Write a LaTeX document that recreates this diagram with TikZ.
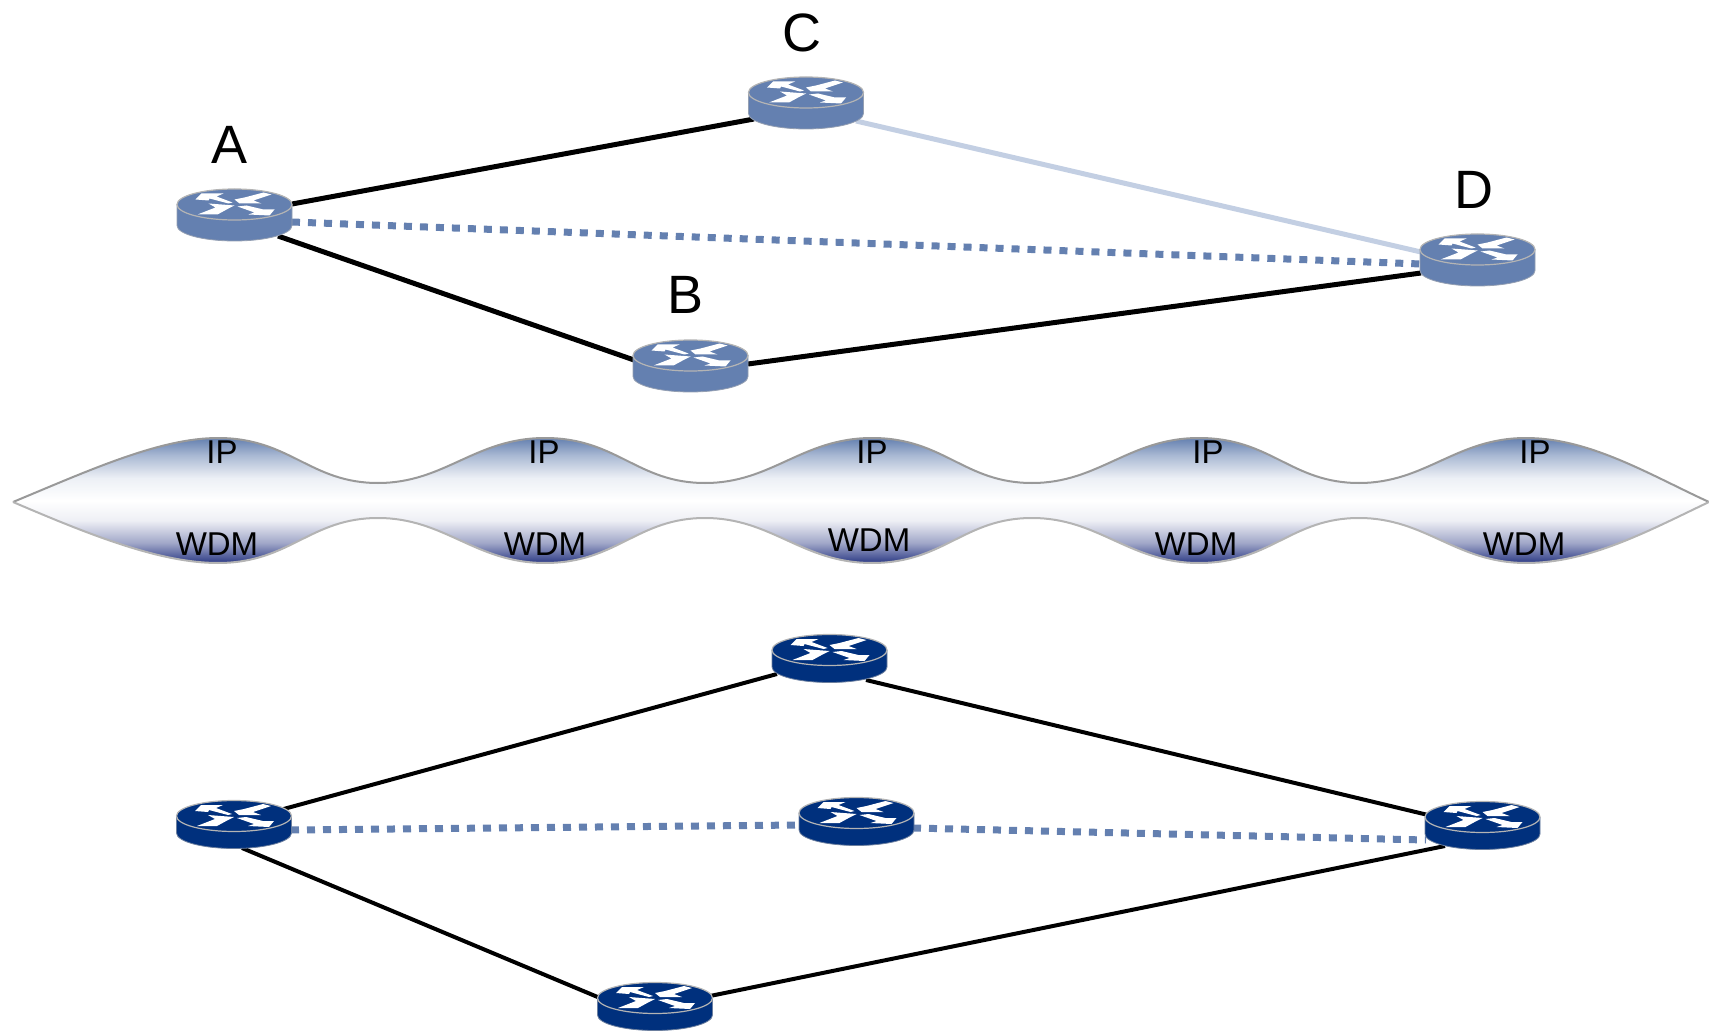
\documentclass[tikz,border=0pt]{standalone}
\usepackage{fontspec}
\setmainfont{Liberation Sans}
\definecolor{steel}{HTML}{6480B0}
\definecolor{navy}{HTML}{00307D}
\definecolor{paleline}{HTML}{C3CFE3}
\definecolor{deep}{HTML}{2C3A85}
\definecolor{edge}{HTML}{B4B4B4}
\pgfdeclareverticalshading{ribbonfill}{100bp}{
  color(0bp)=(deep); color(25bp)=(deep); color(33bp)=(deep!45!white); color(42bp)=(deep!8!white);
  color(50bp)=(white); color(59bp)=(steel!12!white); color(68bp)=(steel!55!white); color(75bp)=(steel); color(100bp)=(steel)}
\newcommand{\routerart}[3]{%
  \begin{scope}[shift={(#1.center)}]
    \fill[#2] (-57.5,0) -- (-57.5,#3) arc[start angle=180,end angle=360,x radius=57.5,y radius=-15.5] -- (57.5,0) -- cycle;
    \draw[edge!60!#2,line width=.4pt] (-57.5,0) -- (-57.5,#3) arc[start angle=180,end angle=360,x radius=57.5,y radius=-15.5] -- (57.5,0);
    \filldraw[fill=#2,draw=edge,line width=.6pt] (0,0) ellipse[x radius=57.5,y radius=15.5];
    \fill[white] (-39,-5) -- (-33,-11) -- (-11,-11) -- (-18,-8) -- (-2,-2) -- (-6,-1) -- (-25,-6) -- (-26,-4) -- cycle;
    \fill[white] (0,-5) -- (10,-7) -- (29,-12) -- (37,-10) -- (19,-4) -- (27,-1) -- (5,-1) -- cycle;
    \fill[white] (-37,10) -- (-19,3) -- (-26,-1) -- (0,1) -- (-6,4) -- (-17,10) -- cycle;
    \fill[white] (3,2) -- (12,1) -- (29,5) -- (40,5) -- (35,11) -- (14,10) -- (20,8) -- cycle;
  \end{scope}}
\newcommand{\ribbonpath}{(13,502)
  .. controls (90,470) and (160,438) .. (218,438)
  .. controls (290,438) and (310,483) .. (378,483)
  .. controls (445,483) and (475,438) .. (545,438)
  .. controls (617,438) and (637,483) .. (705,483)
  .. controls (772,483) and (802,438) .. (872,438)
  .. controls (944,438) and (964,483) .. (1032,483)
  .. controls (1099,483) and (1129,438) .. (1199,438)
  .. controls (1271,438) and (1291,483) .. (1359,483)
  .. controls (1426,483) and (1456,438) .. (1526,438)
  .. controls (1590,438) and (1650,475) .. (1709,502)}
\newcommand{\ribbonback}{
  .. controls (1650,530) and (1590,563) .. (1526,563)
  .. controls (1456,563) and (1426,518) .. (1359,518)
  .. controls (1291,518) and (1271,563) .. (1199,563)
  .. controls (1129,563) and (1099,518) .. (1032,518)
  .. controls (964,518) and (944,563) .. (872,563)
  .. controls (802,563) and (772,518) .. (705,518)
  .. controls (637,518) and (617,563) .. (545,563)
  .. controls (475,563) and (445,518) .. (378,518)
  .. controls (310,518) and (290,563) .. (218,563)
  .. controls (160,563) and (90,535) .. (13,502)}
\tikzset{
  routerbox/.style={minimum width=57.5pt,minimum height=26pt,inner sep=0pt,outer sep=0pt},
  thickline/.style={black,line width=2.5pt},
  thinline/.style={black,line width=2pt},
  paleconn/.style={paleline,line width=2.5pt},
  dotconn/.style={steel,line width=3.5pt,dash pattern=on 4pt off 4pt},
  biglabel/.style={font=\fontsize{27}{30}\selectfont,inner sep=0pt},
  layerlabel/.style={font=\fontsize{16.5}{18}\selectfont,inner sep=0pt}
}
\begin{document}
\begin{tikzpicture}[x=.5pt,y=-.5pt]
\useasboundingbox (0,0) rectangle (1709,1032);
% router anchors
\node[routerbox] (A) at (234.5,204.5) {};
\node[routerbox] (C) at (806,92.5) {};
\node[routerbox] (D) at (1477.5,249.5) {};
\node[routerbox] (B) at (690.5,355.5) {};
\node[routerbox] (P) at (234,816) {};
\node[routerbox] (Q) at (829.5,650) {};
\node[routerbox] (M) at (856.5,813) {};
\node[routerbox] (R) at (1482.5,817) {};
\node[routerbox] (S) at (655,998) {};
% ribbon
\shade[shading=ribbonfill] \ribbonpath \ribbonback -- cycle;
\draw[black!40,line width=1pt] \ribbonpath;
\draw[edge,line width=1pt] (1709,502) \ribbonback;
% connectors, upper
\draw[thickline] ([shift={(57.5,-.5)}]A.center) -- ([shift={(-52,26.5)}]C.center);
\draw[thickline] ([shift={(43.5,31.5)}]A.center) -- ([shift={(-56.5,4.5)}]B.center);
\draw[thickline] ([shift={(57.5,8.5)}]B.center) -- ([shift={(-56.5,23.5)}]D.center);
\draw[paleconn] ([shift={(50,28.5)}]C.center) -- ([shift={(-56.5,2.5)}]D.center);
\draw[dotconn] ([shift={(57.5,17.5)}]A.center) -- ([shift={(-56.5,14.5)}]D.center);
% connectors, lower
\draw[thinline] ([shift={(46,-6)}]P.center) -- ([shift={(-52.5,24)}]Q.center);
\draw[thinline] ([shift={(36.5,30)}]Q.center) -- ([shift={(-54.5,-2)}]R.center);
\draw[thinline] ([shift={(8,32)}]P.center) -- ([shift={(-55,0)}]S.center);
\draw[thinline] ([shift={(55,-2)}]S.center) -- ([shift={(-37.5,29)}]R.center);
\draw[dotconn] ([shift={(57,14)}]P.center) -- ([shift={(-56.5,12)}]M.center);
\draw[dotconn] ([shift={(56.5,15)}]M.center) -- ([shift={(-56.5,23)}]R.center);
% routers
\routerart{A}{steel}{21}
\routerart{C}{steel}{21}
\routerart{D}{steel}{21}
\routerart{B}{steel}{21}
\routerart{P}{navy}{17}
\routerart{Q}{navy}{17}
\routerart{M}{navy}{17}
\routerart{R}{navy}{17}
\routerart{S}{navy}{17}
% labels
\node[biglabel] (la) at (230,145) {A};
\node[biglabel] (lc) at (802,33) {C};
\node[biglabel] (ld) at (1474,190) {D};
\node[biglabel] (lb) at (686,295) {B};
\node[layerlabel] (ip1) at (222,452) {IP};
\node[layerlabel] (ip2) at (544,452) {IP};
\node[layerlabel] (ip3) at (872,452) {IP};
\node[layerlabel] (ip4) at (1208,452) {IP};
\node[layerlabel] (ip5) at (1535,452) {IP};
\node[layerlabel] (w1) at (217,544) {WDM};
\node[layerlabel] (w2) at (545,544) {WDM};
\node[layerlabel] (w3) at (869,540) {WDM};
\node[layerlabel] (w4) at (1196,544) {WDM};
\node[layerlabel] (w5) at (1524,544) {WDM};
\end{tikzpicture}
\end{document}
